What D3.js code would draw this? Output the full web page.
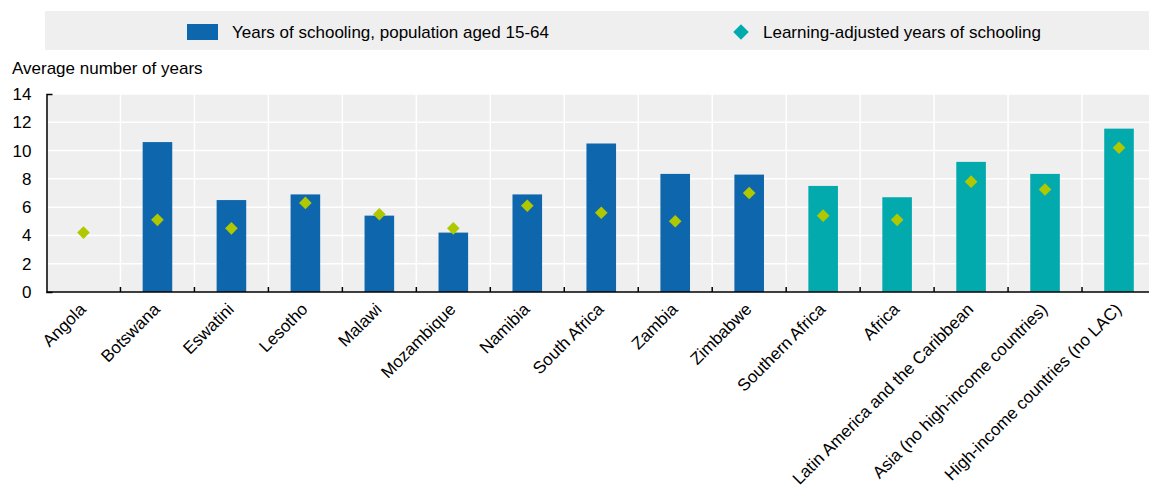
<!DOCTYPE html>
<html>
<head>
<meta charset="utf-8">
<script src="https://cdn.jsdelivr.net/npm/d3@7"></script>
<style>
  body { margin: 0; background: #fff; }
  svg text { font-family: "Liberation Sans", Arial, sans-serif; fill: #000; }
</style>
</head>
<body>
<div id="chart"></div>
<script>
// Dados
const categories = ["Angola", "Botswana", "Eswatini", "Lesotho", "Malawi", "Mozambique", "Namibia",
  "South Africa", "Zambia", "Zimbabwe", "Southern Africa", "Africa",
  "Latin America and the Caribbean", "Asia (no high-income countries)", "High-income countries (no LAC)"];
const yearsSchooling = [null, 10.6, 6.5, 6.9, 5.4, 4.2, 6.9, 10.5, 8.35, 8.3, 7.5, 6.7, 9.2, 8.35, 11.55];
const learningAdjusted = [4.2, 5.1, 4.5, 6.3, 5.5, 4.5, 6.1, 5.6, 5.0, 7.0, 5.4, 5.1, 7.8, 7.25, 10.2];
const isRegion = [false, false, false, false, false, false, false, false, false, false, true, true, true, true, true];
const yTicks = [0, 2, 4, 6, 8, 10, 12, 14];
const seriesNames = ["Years of schooling, population aged 15-64", "Learning-adjusted years of schooling"];

const width = 1149, height = 487;
const plotLeft = 46.5, plotRight = 1156, plotTop = 94, plotBottom = 292;

const svg = d3.select("#chart").append("svg")
  .attr("width", width)
  .attr("height", height);

// Legenda
svg.append("rect")
  .attr("x", 45).attr("y", 11)
  .attr("width", width - 45).attr("height", 39)
  .attr("fill", "#efefef");

svg.append("rect")
  .attr("x", 187).attr("y", 24).attr("width", 31).attr("height", 16)
  .attr("fill", "#0e66ad");
svg.append("text")
  .attr("x", 232).attr("y", 38)
  .style("font-size", "17px")
  .text(seriesNames[0]);

svg.append("path")
  .attr("d", d3.symbol().type(d3.symbolSquare).size(120)())
  .attr("transform", "translate(741,32) rotate(45)")
  .attr("fill", "#03aaad");
svg.append("text")
  .attr("x", 763).attr("y", 38)
  .style("font-size", "17px")
  .text(seriesNames[1]);

// Escalas
const x = d3.scaleBand()
  .domain(categories)
  .range([plotLeft, plotRight])
  .paddingInner(0.6)
  .paddingOuter(0.3);

const y = d3.scaleLinear()
  .domain([0, 14])
  .range([plotBottom, plotTop]);

// Fundo da área do gráfico
svg.append("rect")
  .attr("x", plotLeft).attr("y", plotTop)
  .attr("width", width - plotLeft).attr("height", plotBottom - plotTop)
  .attr("fill", "#efefef");

// Grades
const step = x.step();
svg.append("g")
  .selectAll("line")
  .data(yTicks.filter(d => d > 0))
  .enter().append("line")
  .attr("x1", plotLeft).attr("x2", width)
  .attr("y1", d => y(d)).attr("y2", d => y(d))
  .attr("stroke", "#fff").attr("stroke-width", 1.5);

svg.append("g")
  .selectAll("line")
  .data(categories.slice(1))
  .enter().append("line")
  .attr("x1", d => x(d) - step * 0.3).attr("x2", d => x(d) - step * 0.3)
  .attr("y1", plotTop).attr("y2", plotBottom)
  .attr("stroke", "#fff").attr("stroke-width", 1.5);

// Barras
svg.append("g")
  .selectAll("rect")
  .data(categories.map((c, i) => ({ c, v: yearsSchooling[i], region: isRegion[i] })).filter(d => d.v != null))
  .enter().append("rect")
  .attr("x", d => x(d.c))
  .attr("y", d => y(d.v))
  .attr("width", x.bandwidth())
  .attr("height", d => y(0) - y(d.v))
  .attr("fill", d => d.region ? "#03aaad" : "#0e66ad");

// Losangos
svg.append("g")
  .selectAll("path")
  .data(categories.map((c, i) => ({ c, v: learningAdjusted[i] })))
  .enter().append("path")
  .attr("d", d3.symbol().type(d3.symbolSquare).size(80)())
  .attr("transform", d => `translate(${x(d.c) + x.bandwidth() / 2},${y(d.v)}) rotate(45)`)
  .attr("fill", "#b0c800");

// Eixo Y
const yAxis = svg.append("g")
  .attr("transform", `translate(${plotLeft},0)`)
  .call(d3.axisLeft(y).tickValues(yTicks).tickSizeInner(0).tickSizeOuter(-6).tickPadding(15));
yAxis.select(".domain").attr("stroke", "#000").attr("stroke-width", 1.5);
yAxis.selectAll("text").style("font-size", "17px").attr("font-family", null);

svg.append("text")
  .attr("x", 12).attr("y", 74)
  .style("font-size", "17px")
  .text("Average number of years");

// Eixo X
svg.append("line")
  .attr("x1", plotLeft).attr("x2", width)
  .attr("y1", plotBottom).attr("y2", plotBottom)
  .attr("stroke", "#000").attr("stroke-width", 1.5);

svg.append("g")
  .selectAll("line")
  .data(categories.slice(1))
  .enter().append("line")
  .attr("x1", d => x(d) - step * 0.3).attr("x2", d => x(d) - step * 0.3)
  .attr("y1", plotBottom).attr("y2", plotBottom - 5)
  .attr("stroke", "#000").attr("stroke-width", 1.5);

svg.append("g")
  .selectAll("text")
  .data(categories)
  .enter().append("text")
  .attr("transform", d => `translate(${x(d) + x.bandwidth() / 2 - 5},${plotBottom + 10}) rotate(-45)`)
  .attr("text-anchor", "end")
  .attr("dy", "0.7em")
  .style("font-size", "17px")
  .text(d => d);
</script>
</body>
</html>
